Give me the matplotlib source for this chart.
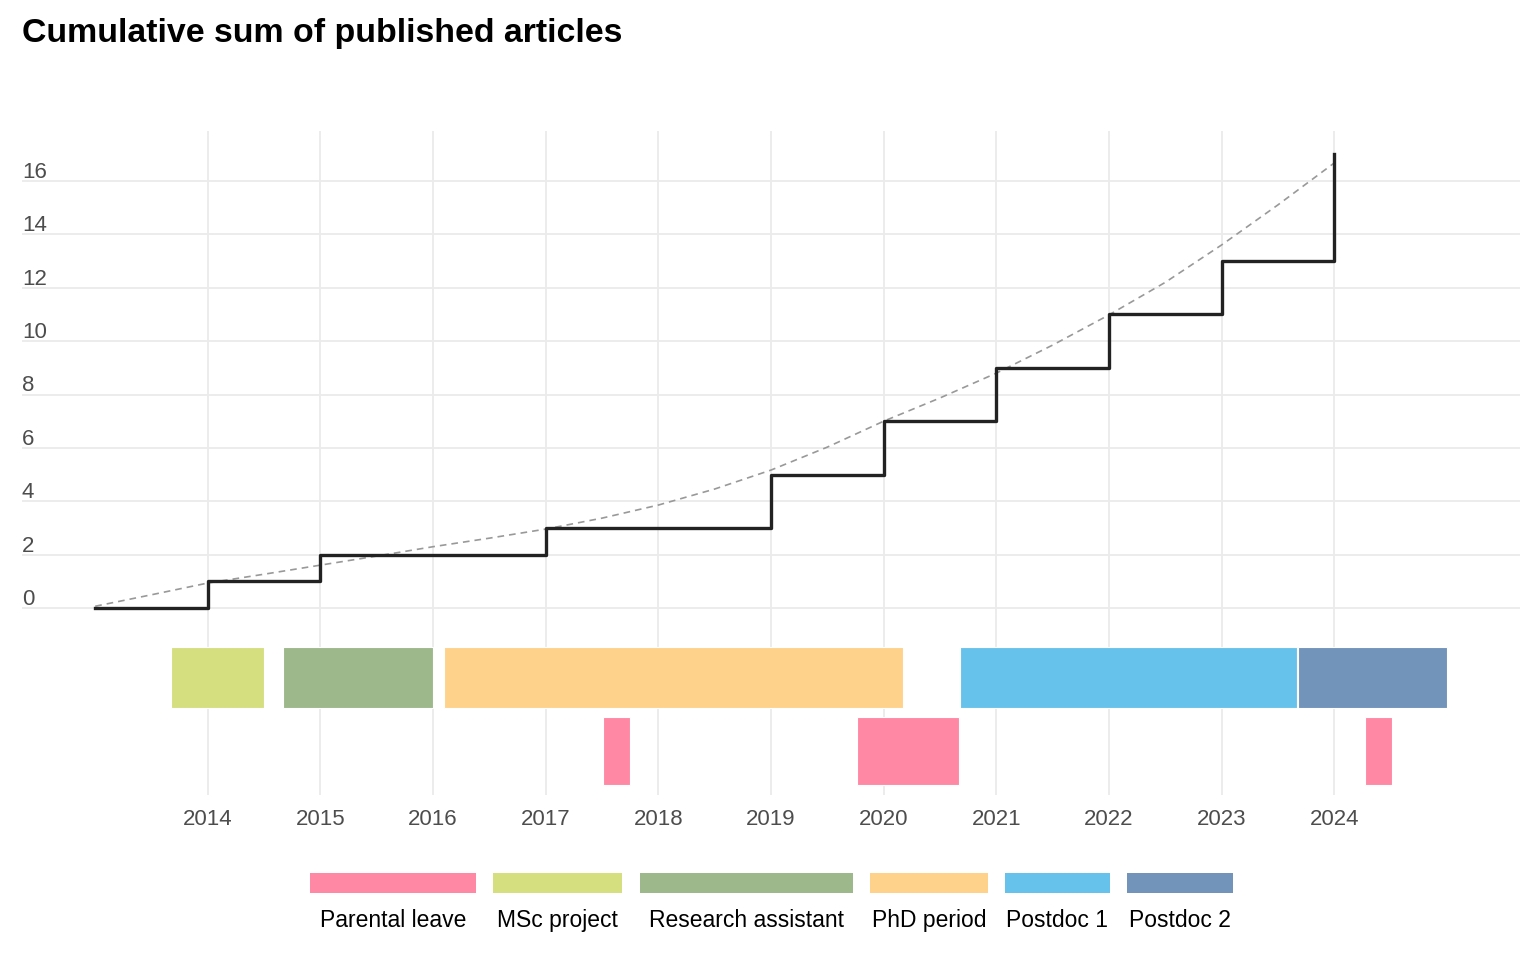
import matplotlib.pyplot as plt
from matplotlib.patches import Rectangle
from matplotlib.transforms import blended_transform_factory

plt.rcParams['font.family'] = ['Liberation Sans', 'DejaVu Sans']

# cumulative count of articles per year
years = [2013, 2014, 2015, 2016, 2017, 2018, 2019, 2020, 2021, 2022, 2023, 2024]
cum_articles = [0, 1, 2, 2, 3, 3, 5, 7, 9, 11, 13, 17]

# smoothed trend (dashed)
trend_x = [2013, 2013.5, 2014, 2014.5, 2015, 2015.5, 2016, 2016.5, 2017, 2017.5,
           2018, 2018.5, 2019, 2019.5, 2020, 2020.5, 2021, 2021.5, 2022, 2022.5,
           2023, 2023.5, 2024]
trend_y = [0.07, 0.5, 0.94, 1.27, 1.61, 1.95, 2.3, 2.62, 2.96, 3.37,
           3.86, 4.46, 5.17, 6.03, 7.0, 7.87, 8.8, 9.85, 10.98, 12.2,
           13.6, 15.1, 16.67]

# career periods: label, start, end, row (1 = top, 2 = bottom)
period_labels = ['MSc project', 'Research assistant', 'PhD period', 'Postdoc 1', 'Postdoc 2',
                 'Parental leave', 'Parental leave', 'Parental leave']
period_start = [2013.67, 2014.67, 2016.10, 2020.68, 2023.68, 2017.51, 2019.76, 2024.27]
period_end = [2014.50, 2016.0, 2020.17, 2023.67, 2025.0, 2017.75, 2020.67, 2024.51]
period_row = [1, 1, 1, 1, 1, 2, 2, 2]

legend_order = ['Parental leave', 'MSc project', 'Research assistant', 'PhD period',
                'Postdoc 1', 'Postdoc 2']
colors = {
    'Parental leave': '#FF88A5',
    'MSc project': '#D5DF80',
    'Research assistant': '#9DB88A',
    'PhD period': '#FFD28B',
    'Postdoc 1': '#67C2EB',
    'Postdoc 2': '#7293BA',
}

W, H = 1536, 960
fig = plt.figure(figsize=(W / 100, H / 100), dpi=100)
ax = fig.add_axes([22 / W, 1 - 795 / H, (1520 - 22) / W, (795 - 131) / H])
ax.set_xlim(2012.35, 2025.65)
ax.set_ylim(-7.0, 17.87)

grid_c = '#EBEBEB'
for v in range(0, 17, 2):
    ax.axhline(v, color=grid_c, lw=1.3, zorder=0)
for yr in range(2014, 2025):
    ax.axvline(yr, color=grid_c, lw=1.3, zorder=0)

ax.plot(trend_x, trend_y, color='#999999', lw=1.2, ls=(0, (4, 3)), zorder=2)
ax.plot(years, cum_articles, drawstyle='steps-post', color='#222222', lw=2.4, zorder=3)

row_y = {1: (-3.75, -1.46), 2: (-6.63, -4.08)}
for lab, s, e, r in zip(period_labels, period_start, period_end, period_row):
    y0, y1 = row_y[r]
    ax.add_patch(Rectangle((s, y0), e - s, y1 - y0, facecolor=colors[lab],
                           edgecolor='white', lw=0.8, zorder=4))

# y labels sit just above their grid lines
trans = blended_transform_factory(ax.transAxes, ax.transData)
for v in range(0, 17, 2):
    ax.text(0, v + 0.12, str(v), transform=trans, ha='left', va='baseline',
            fontsize=16, color='#4D4D4D')

ax.set_yticks([])
ax.set_xticks(range(2014, 2025))
ax.tick_params(axis='x', length=0, pad=10, labelsize=16, labelcolor='#4D4D4D')
for sp in ax.spines.values():
    sp.set_visible(False)

fig.text(22 / W, 1 - 42 / H, 'Cumulative sum of published articles',
         fontsize=24.4, fontweight='bold', ha='left', va='baseline')

# legend: coloured key above each label (key edges in pixels)
key_left = [310, 493, 640, 870, 1005, 1127]
key_right = [476, 622, 853, 988, 1110, 1233]
for lab, l, r in zip(legend_order, key_left, key_right):
    fig.patches.append(Rectangle((l / W, 1 - 893 / H), (r - l) / W, 20 / H,
                                 transform=fig.transFigure, facecolor=colors[lab],
                                 edgecolor='none'))
    fig.text((l + r) / 2 / W, 1 - 927 / H, lab, fontsize=16.5, ha='center',
             va='baseline', color='black')

fig.savefig('out.png', dpi=100, facecolor='white')
